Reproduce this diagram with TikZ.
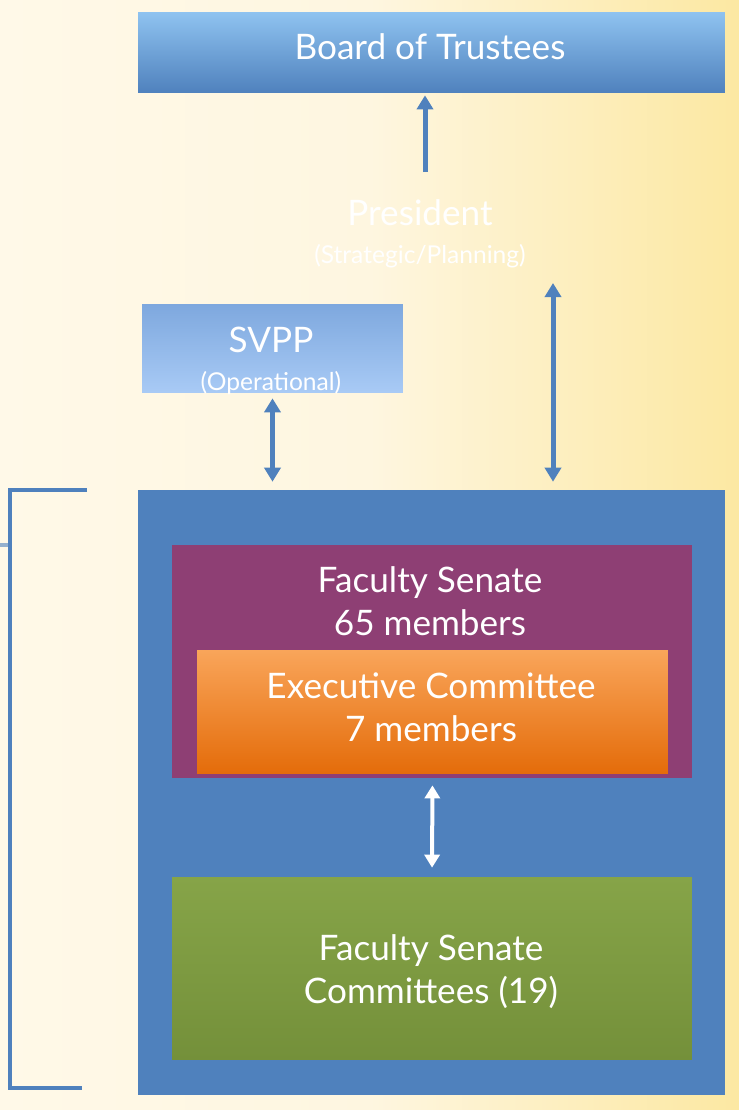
\documentclass[tikz,border=0pt]{standalone}
\usepackage{fontspec}
\setmainfont{Lato}
\usetikzlibrary{arrows.meta}

\definecolor{deskblue}{HTML}{4F81BD}
\definecolor{boardtop}{HTML}{8FC3F0}
\definecolor{svpptop}{HTML}{7EA8DE}
\definecolor{svppbody}{HTML}{A8CAF5}
\definecolor{senatepurple}{HTML}{8E3F74}
\definecolor{exectop}{HTML}{F9A55A}
\definecolor{execbottom}{HTML}{E46C0A}
\definecolor{olivetop}{HTML}{86A448}
\definecolor{olive}{HTML}{74903A}
\definecolor{bgleft}{HTML}{FFF9E8}
\definecolor{bgmid}{HTML}{FEF6E0}
\definecolor{bgright}{HTML}{FCE8A2}

\newcommand{\bigfont}{\fontsize{20}{24.5}\selectfont}
\newcommand{\smallfont}{\fontsize{14}{16}\selectfont}

\tikzset{
  box/.style={rectangle, inner sep=0pt, text=white, align=center, font=\bigfont},
  onearrow/.style={draw=deskblue, line width=0.1cm, -{Triangle[width=0.32cm,length=0.28cm]}},
  twoarrow/.style={draw=deskblue, line width=0.1cm, {Triangle[width=0.32cm,length=0.28cm]}-{Triangle[width=0.32cm,length=0.28cm]}},
  whitearrow/.style={draw=white, line width=0.08cm, {Triangle[width=0.3cm,length=0.26cm]}-{Triangle[width=0.3cm,length=0.26cm]}},
  bracket/.style={draw=deskblue, line width=0.09cm}
}

\begin{document}
\begin{tikzpicture}[x=0.02cm,y=-0.02cm]
% Background
\shade[left color=bgleft, right color=bgright, middle color=bgmid] (0,0) rectangle (739,1110);
\useasboundingbox (0,0) rectangle (739,1110);

% Place nodes
\node[box, minimum width=11.74cm, minimum height=1.62cm, top color=boardtop, bottom color=deskblue] (board) at (431.5,52.5) {};
\node[box] (boardtext) at (430,47) {Board of Trustees};

\node[box] (pres) at (420,234) {President\\[-3pt]{\smallfont (Strategic/Planning)}};

\node[box, minimum width=5.22cm, minimum height=1.76cm, top color=svpptop, bottom color=svppbody] (svpp) at (272.5,348) {};
\node[box] (svpptext) at (271,361) {SVPP\\[-3pt]{\smallfont (Operational)}};

\node[box, fill=deskblue, minimum width=11.74cm, minimum height=12.1cm] (outer) at (431.5,792.5) {};
\node[box, fill=senatepurple, minimum width=10.4cm, minimum height=4.66cm] (senate) at (432,661.5) {};
\node[box] (senatetext) at (430,601) {Faculty Senate\\65 members};
\node[box, minimum width=9.42cm, minimum height=2.46cm, top color=exectop, bottom color=execbottom] (exec) at (432.5,711.5) {};
\node[box] (exectext) at (431,707) {Executive Committee\\7 members};
\node[box, minimum width=10.4cm, minimum height=3.66cm, top color=olivetop, bottom color=olive] (committees) at (432,968.5) {};
\node[box] (committeestext) at (431,972) {Faculty Senate\\Committees (19)};

% Connectors
\coordinate (presup) at (425,172);
\coordinate (presdown) at (553,283);
\draw[onearrow, shorten >=0.04cm] (presup) -- (presup |- board.south);
\draw[twoarrow, shorten >=0.16cm] (presdown) -- (presdown |- outer.north);
\draw[twoarrow, shorten <=0.12cm, shorten >=0.16cm] (svpp.south) -- (svpp.south |- outer.north);
\draw[whitearrow, shorten <=0.24cm, shorten >=0.18cm] (exec.south) -- (committees.north);

% Bracket
\draw[bracket] (87,490) -- (10,490) -- (10,1088) -- (82,1088);
\draw[bracket, draw opacity=0.6] (0,545) -- (10,545);

\end{tikzpicture}
\end{document}
